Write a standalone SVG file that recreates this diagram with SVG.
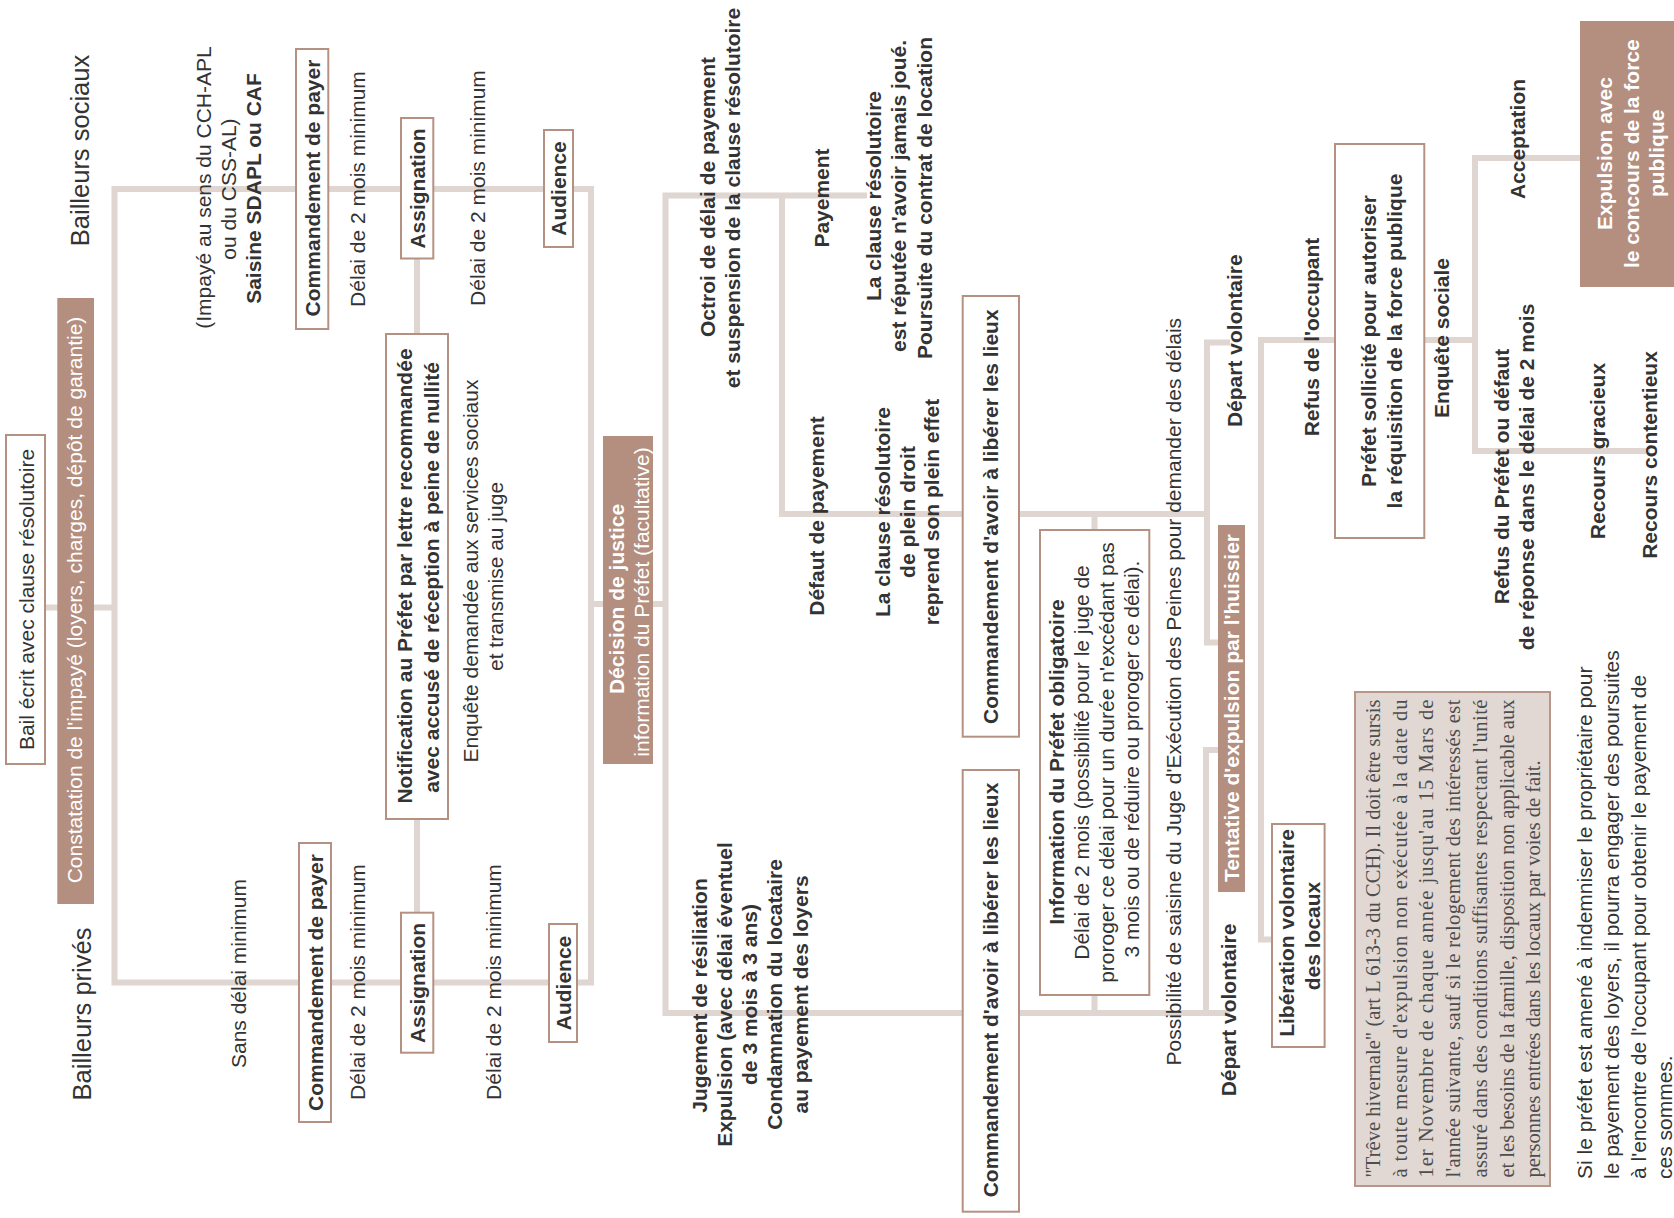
<svg xmlns="http://www.w3.org/2000/svg" width="1674" height="1218" viewBox="0 0 1674 1218">
<style>
.c{fill:none;stroke:#e0d6d1;stroke-width:6}
.bx{fill:#fff;stroke:#b59182;stroke-width:2}
.fb{fill:#b48f80}
.tb{fill:#e1d8d4;stroke:#b8968a;stroke-width:2}
.t{font-family:"Liberation Sans",Arial,sans-serif;font-size:21px;fill:#333;text-anchor:middle;dominant-baseline:central}
.b{font-weight:bold}
.w{fill:#fff}
.h{font-size:25.5px}
.s{text-anchor:start}
.sf{font-family:"Liberation Serif","Times New Roman",serif;font-size:20.5px;fill:#4d4d4d;text-anchor:start;dominant-baseline:central}
</style>
<rect width="1674" height="1218" fill="#fff"/>
<g id="connectors">
<path class="c" d="M45 607.5H114.5"/>
<path class="c" d="M114.5 189H591V982.5H114.5Z"/>
<path class="c" d="M417 258.5V912.7"/>
<path class="c" d="M591 604H603M653 604H665.5"/>
<path class="c" d="M867 195.5H665.5V1013H1230"/>
<path class="c" d="M782 195.5V514H1207"/>
<path class="c" d="M1230 342.5H1207V642.5H1218"/>
<path class="c" d="M1094.5 514V530M1094.5 995V1013"/>
<path class="c" d="M1218 750H1206V1013"/>
<path class="c" d="M1335 340H1261V939.5H1272"/>
<path class="c" d="M1424 340H1475M1580 158H1475V451H1650"/>
</g>
<g id="bailleurs-sociaux"><text class="t h" transform="translate(80 150.5) rotate(-90)">Bailleurs sociaux</text></g>
<g id="bailleurs-prives"><text class="t h" transform="translate(82 1014) rotate(-90)">Bailleurs privés</text></g>
<g id="bail"><rect class="bx" x="6" y="435" width="39" height="329"/><text class="t" transform="translate(26 599.5) rotate(-90)">Bail écrit avec clause résolutoire</text></g>
<g id="constatation"><rect class="fb" x="57.3" y="298" width="36.7" height="606"/><text class="t w" transform="translate(74 600) rotate(-90)">Constatation de l'impayé (loyers, charges, dépôt de garantie)</text></g>
<g id="saisine"><text class="t" transform="translate(203 187.5) rotate(-90)">(Impayé au sens du CCH-APL</text><text class="t" transform="translate(228.5 189) rotate(-90)">ou du CSS-AL)</text><text class="t b" transform="translate(253 188.5) rotate(-90)">Saisine SDAPL ou CAF</text></g>
<g id="sans-delai"><text class="t" transform="translate(238.5 973.5) rotate(-90)">Sans délai minimum</text></g>
<g id="commandement-payer-1"><rect class="bx" x="296" y="49" width="32.3" height="280"/><text class="t b" transform="translate(312 188) rotate(-90)">Commandement de payer</text></g>
<g id="commandement-payer-2"><rect class="bx" x="299" y="843" width="32" height="279"/><text class="t b" transform="translate(315 982.5) rotate(-90)">Commandement de payer</text></g>
<g id="delai-1a"><text class="t" transform="translate(357.5 189) rotate(-90)">Délai de 2 mois minimum</text></g>
<g id="delai-1b"><text class="t" transform="translate(357.5 982) rotate(-90)">Délai de 2 mois minimum</text></g>
<g id="assignation-1"><rect class="bx" x="401" y="118" width="32.3" height="140.5"/><text class="t b" transform="translate(417 188.5) rotate(-90)">Assignation</text></g>
<g id="assignation-2"><rect class="bx" x="401" y="912.7" width="32.3" height="140"/><text class="t b" transform="translate(417 983) rotate(-90)">Assignation</text></g>
<g id="notification"><rect class="bx" x="386" y="334" width="62" height="485"/><text class="t b" transform="translate(404 576) rotate(-90)">Notification au Préfet par lettre recommandée</text><text class="t b" transform="translate(431 577.5) rotate(-90)">avec accusé de réception à peine de nullité</text></g>
<g id="enquete-juge"><text class="t" transform="translate(470 571) rotate(-90)">Enquête demandée aux services sociaux</text><text class="t" transform="translate(495 576.5) rotate(-90)">et transmise au juge</text></g>
<g id="delai-2a"><text class="t" transform="translate(477 188) rotate(-90)">Délai de 2 mois minimum</text></g>
<g id="delai-2b"><text class="t" transform="translate(493 982) rotate(-90)">Délai de 2 mois minimum</text></g>
<g id="audience-1"><rect class="bx" x="544" y="130" width="29" height="117"/><text class="t b" transform="translate(558.5 188.5) rotate(-90)">Audience</text></g>
<g id="audience-2"><rect class="bx" x="549" y="924" width="28" height="118"/><text class="t b" transform="translate(563 983) rotate(-90)">Audience</text></g>
<g id="decision"><rect class="fb" x="603" y="436" width="50" height="328"/><text class="t b w" transform="translate(616 599) rotate(-90)">Décision de justice</text><text class="t w" transform="translate(641 602) rotate(-90)">information du Préfet (facultative)</text></g>
<g id="octroi"><text class="t b" transform="translate(707.5 197) rotate(-90)">Octroi de délai de payement</text><text class="t b" transform="translate(732.5 198) rotate(-90)">et suspension de la clause résolutoire</text></g>
<g id="jugement"><text class="t b" transform="translate(699 995.5) rotate(-90)">Jugement de résiliation</text><text class="t b" transform="translate(724 994.5) rotate(-90)">Expulsion (avec délai éventuel</text><text class="t b" transform="translate(749 994.5) rotate(-90)">de 3 mois à 3 ans)</text><text class="t b" transform="translate(774.5 994.5) rotate(-90)">Condamnation du locataire</text><text class="t b" transform="translate(800 994.5) rotate(-90)">au payement des loyers</text></g>
<g id="payement"><text class="t b" transform="translate(821 198) rotate(-90)">Payement</text></g>
<g id="clause-reputee"><text class="t b" transform="translate(873 196) rotate(-90)">La clause résolutoire</text><text class="t b" transform="translate(898 196) rotate(-90)">est réputée n'avoir jamais joué.</text><text class="t b" transform="translate(924 198) rotate(-90)">Poursuite du contrat de location</text></g>
<g id="defaut"><text class="t b" transform="translate(816 516) rotate(-90)">Défaut de payement</text></g>
<g id="clause-effet"><text class="t b" transform="translate(882 512) rotate(-90)">La clause résolutoire</text><text class="t b" transform="translate(907 512) rotate(-90)">de plein droit</text><text class="t b" transform="translate(931 512) rotate(-90)">reprend son plein effet</text></g>
<g id="commandement-lieux-1"><rect class="bx" x="962.7" y="296" width="56.3" height="440.7"/><text class="t b" transform="translate(990.8 516.7) rotate(-90)">Commandement d'avoir à libérer les lieux</text></g>
<g id="commandement-lieux-2"><rect class="bx" x="962.7" y="770" width="56.3" height="441.7"/><text class="t b" transform="translate(990.8 990) rotate(-90)">Commandement d'avoir à libérer les lieux</text></g>
<g id="information-prefet"><rect class="bx" x="1040" y="530" width="109.3" height="465"/><text class="t b" transform="translate(1056 762) rotate(-90)">Information du Préfet obligatoire</text><text class="t" transform="translate(1081 762.5) rotate(-90)">Délai de 2 mois (possibilité pour le juge de</text><text class="t" transform="translate(1106 762.5) rotate(-90)">proroger ce délai pour un durée n'excédant pas</text><text class="t" transform="translate(1131 759) rotate(-90)">3 mois ou de réduire ou proroger ce délai).</text></g>
<g id="possibilite"><text class="t" transform="translate(1173 691.7) rotate(-90)">Possibilité de saisine du Juge d'Exécution des Peines pour demander des délais</text></g>
<g id="depart-1"><text class="t b" transform="translate(1234.5 340.7) rotate(-90)">Départ volontaire</text></g>
<g id="depart-2"><text class="t b" transform="translate(1228 1010) rotate(-90)">Départ volontaire</text></g>
<g id="tentative"><rect class="fb" x="1218" y="525" width="27" height="367"/><text class="t b w" transform="translate(1231.5 708) rotate(-90)">Tentative d'expulsion par l'huissier</text></g>
<g id="refus-occupant"><text class="t b" transform="translate(1311 337) rotate(-90)">Refus de l'occupant</text></g>
<g id="liberation"><rect class="bx" x="1272" y="824" width="52.6" height="223"/><text class="t b" transform="translate(1286 933) rotate(-90)">Libération volontaire</text><text class="t b" transform="translate(1312.5 936) rotate(-90)">des locaux</text></g>
<g id="prefet-sollicite"><rect class="bx" x="1335" y="144" width="89.3" height="394"/><text class="t b" transform="translate(1368 341) rotate(-90)">Préfet sollicité pour autoriser</text><text class="t b" transform="translate(1394.5 341) rotate(-90)">la réquisition de la force publique</text></g>
<g id="enquete-sociale"><text class="t b" transform="translate(1441 338) rotate(-90)">Enquête sociale</text></g>
<g id="acceptation"><text class="t b" transform="translate(1517.5 139) rotate(-90)">Acceptation</text></g>
<g id="refus-prefet"><text class="t b" transform="translate(1501 476.5) rotate(-90)">Refus du Préfet ou défaut</text><text class="t b" transform="translate(1526 477) rotate(-90)">de réponse dans le délai de 2 mois</text></g>
<g id="recours"><text class="t b" transform="translate(1597.5 451) rotate(-90)">Recours gracieux</text><text class="t b" transform="translate(1649.5 455) rotate(-90)">Recours contentieux</text></g>
<g id="expulsion-force"><rect class="fb" x="1580" y="21" width="94" height="266"/><text class="t b w" transform="translate(1604.5 153.5) rotate(-90)">Expulsion avec</text><text class="t b w" transform="translate(1631 153.7) rotate(-90)">le concours de la force</text><text class="t b w" transform="translate(1656 153.3) rotate(-90)">publique</text></g>
<g id="treve"><rect class="tb" x="1355" y="692" width="195" height="494"/>
<text class="sf" transform="translate(1372.5 1177.6) rotate(-90)" textLength="478" lengthAdjust="spacing">"Trêve hivernale" (art L 613-3 du CCH). Il doit être sursis</text>
<text class="sf" transform="translate(1399.5 1177.6) rotate(-90)" textLength="478" lengthAdjust="spacing">à toute mesure d'expulsion non exécutée à la date du</text>
<text class="sf" transform="translate(1426 1177.6) rotate(-90)" textLength="478" lengthAdjust="spacing">1er Novembre de chaque année jusqu'au 15 Mars de</text>
<text class="sf" transform="translate(1453 1177.6) rotate(-90)" textLength="478" lengthAdjust="spacing">l'année suivante, sauf si le relogement des intéressés est</text>
<text class="sf" transform="translate(1480 1177.6) rotate(-90)" textLength="478" lengthAdjust="spacing">assuré dans des conditions suffisantes respectant l'unité</text>
<text class="sf" transform="translate(1507 1177.6) rotate(-90)" textLength="478" lengthAdjust="spacing">et les besoins de la famille, disposition non applicable aux</text>
<text class="sf" transform="translate(1533 1177.6) rotate(-90)">personnes entrées dans les locaux par voies de fait.</text>
</g>
<g id="note-indemnisation">
<text class="t s" transform="translate(1584 1179) rotate(-90)">Si le préfet est amené à indemniser le propriétaire pour</text>
<text class="t s" transform="translate(1611 1179) rotate(-90)">le payement des loyers, il pourra engager des poursuites</text>
<text class="t s" transform="translate(1638 1179) rotate(-90)">à l'encontre de l'occupant pour obtenir le payement de</text>
<text class="t s" transform="translate(1664 1179) rotate(-90)">ces sommes.</text>
</g>
</svg>
